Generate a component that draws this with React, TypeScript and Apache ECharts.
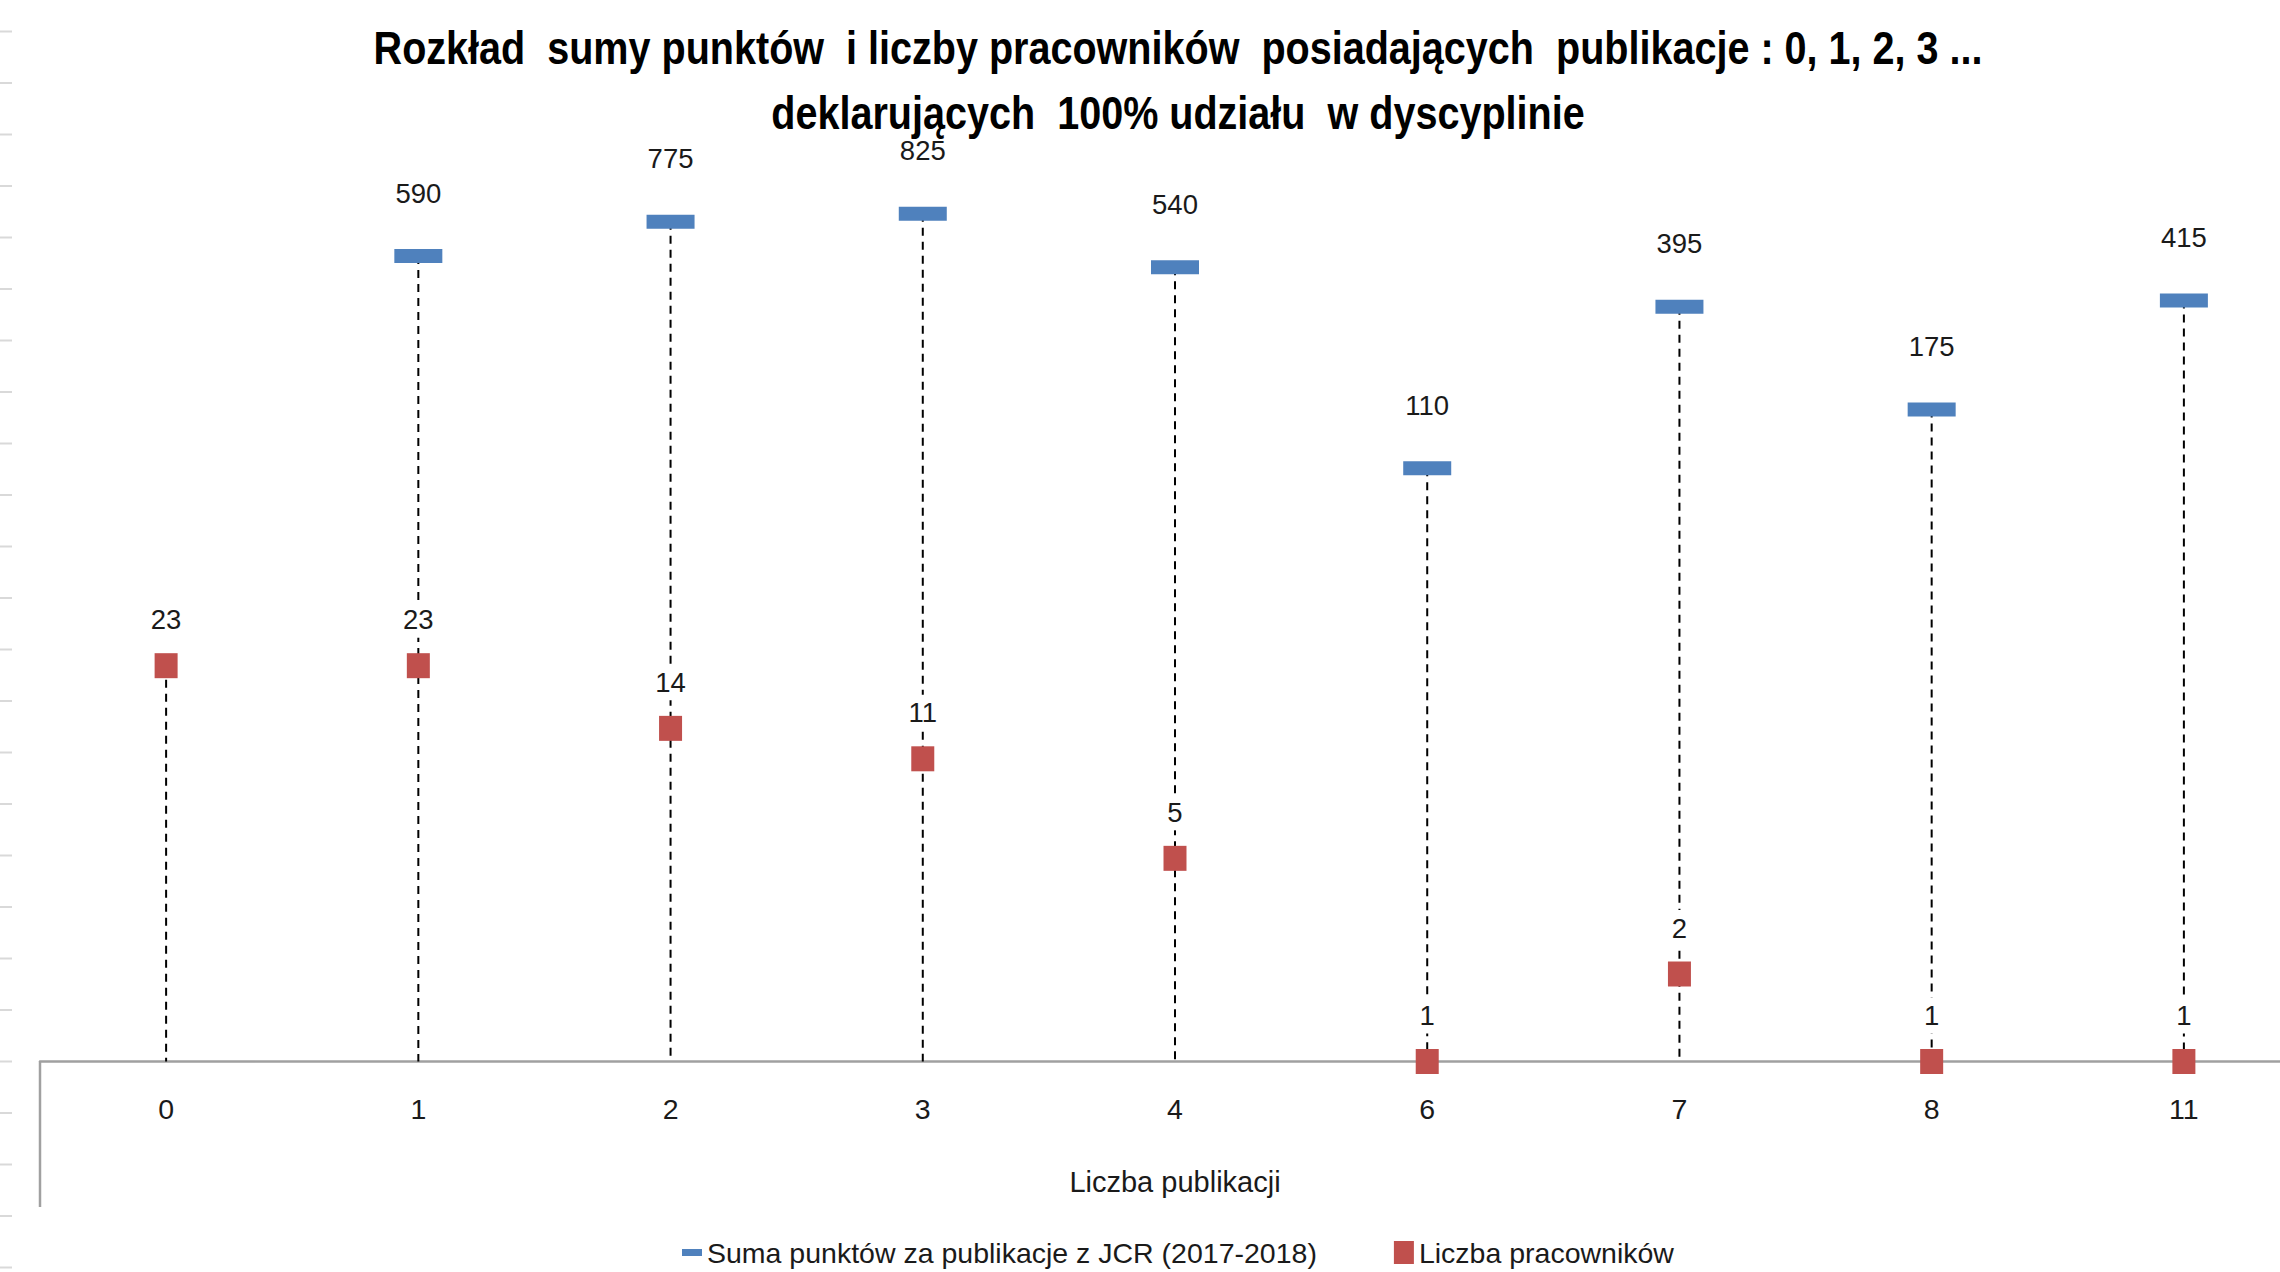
import React, { useEffect, useRef } from "react";
import * as echarts from "echarts";

const categories = ["0", "1", "2", "3", "4", "6", "7", "8", "11"];
const pointsSum: (number | null)[] = [null, 590, 775, 825, 540, 110, 395, 175, 415];
const employees: number[] = [23, 23, 14, 11, 5, 1, 2, 1, 1];
const titleLines = [
  "Rozkład  sumy punktów  i liczby pracowników  posiadających  publikacje : 0, 1, 2, 3 ...",
  "deklarujących  100% udziału  w dyscyplinie",
];
const seriesNames = ["Suma punktów za publikacje z JCR (2017-2018)", "Liczba pracowników"];
const xAxisName = "Liczba publikacji";

const FONT = "'Liberation Sans', Arial, sans-serif";

export default function App() {
  const ref = useRef<HTMLDivElement>(null);
  useEffect(() => {
    if (!ref.current) return;
    const chart = echarts.init(ref.current, null, { renderer: "svg" });

    const dropData = categories.map((_, i) => [i, Math.max(pointsSum[i] ?? 0, employees[i])]);

    const sideTicks: any[] = [];
    for (let k = -20; k <= 4; k++) {
      const y = 1061.5 + 51.5 * k;
      sideTicks.push({
        type: "line",
        silent: true,
        shape: { x1: 0, y1: y, x2: 12, y2: y },
        style: { stroke: "#d9d9d9", lineWidth: 2 },
      });
    }

    const labelBase = {
      show: true,
      position: "inside",
      fontFamily: FONT,
      fontSize: 27.5,
      color: "#1a1a1a",
      backgroundColor: "#ffffff",
      padding: [4, 4],
      formatter: "{c}",
    };

    chart.setOption({
      animation: false,
      backgroundColor: "#ffffff",
      textStyle: { fontFamily: FONT },
      grid: { left: 40, top: 189.5, width: 2270, height: 872, outerBoundsMode: "none", containLabel: false },
      xAxis: {
        type: "category",
        data: categories,
        boundaryGap: true,
        axisLine: { show: true, lineStyle: { color: "#a0a0a0", width: 2.5 } },
        axisTick: { show: false },
        axisLabel: { fontFamily: FONT, fontSize: 28.5, lineHeight: 28, color: "#1a1a1a", margin: 33 },
        name: xAxisName,
        nameLocation: "middle",
        nameGap: 106,
        nameTextStyle: { fontFamily: FONT, fontSize: 29, lineHeight: 29, color: "#1a1a1a" },
        splitLine: { show: false },
      },
      yAxis: {
        type: "log",
        logBase: 10,
        min: 1,
        max: 1000,
        show: true,
        axisLine: { show: false },
        axisTick: { show: false },
        axisLabel: { show: false },
        splitLine: { show: false },
      },
      legend: {
        left: 680,
        top: 1236,
        padding: 2,
        itemWidth: 20,
        itemHeight: 23,
        itemGap: 77,
        textStyle: { fontFamily: FONT, fontSize: 28.5, lineHeight: 28, color: "#1a1a1a" },
        data: [
          { name: seriesNames[0], icon: "path://M0,0 M0,23 M0,8 L20,8 L20,15 L0,15 Z" },
          { name: seriesNames[1], icon: "rect" },
        ],
      },
      graphic: [
        ...sideTicks,
        {
          type: "line",
          silent: true,
          shape: { x1: 40, y1: 1061.5, x2: 40, y2: 1207 },
          style: { stroke: "#a0a0a0", lineWidth: 2.5 },
        },
        ...titleLines.map((t, i) => ({
          type: "text",
          silent: true,
          z: 100,
          x: 1178,
          y: 48 + i * 65,
          scaleX: 0.86,
          style: {
            text: t,
            font: `bold 46px ${FONT}`,
            fill: "#000000",
            textAlign: "center",
            textVerticalAlign: "middle",
          },
        })),
      ],
      series: [
        {
          type: "custom",
          name: "drop",
          silent: true,
          data: dropData,
          encode: { x: 0, y: 1 },
          renderItem: (params: any, api: any) => {
            const idx = api.value(0);
            const top = api.coord([idx, api.value(1)]);
            const bottom = api.coord([idx, 1]);
            return {
              type: "line",
              shape: { x1: top[0], y1: top[1], x2: bottom[0], y2: bottom[1] },
              style: { stroke: "#000000", lineWidth: 2, lineDash: [8, 6] },
            };
          },
          z: 1,
        },
        {
          type: "scatter",
          name: seriesNames[0],
          data: pointsSum.map((v) => (v == null ? "-" : v)),
          symbol: "rect",
          symbolSize: [48, 14],
          itemStyle: { color: "#4f81bd", opacity: 1 },
          label: { ...labelBase, offset: [0, -63] },
          z: 3,
        },
        {
          type: "scatter",
          name: seriesNames[1],
          data: employees,
          symbol: "rect",
          symbolSize: [23, 25],
          itemStyle: { color: "#c0504d", opacity: 1 },
          label: { ...labelBase, offset: [0, -46] },
          z: 3,
        },
      ],
    });
    return () => chart.dispose();
  }, []);

  return (
    <div
      ref={ref}
      style={{ position: "fixed", left: 0, top: 0, width: 2280, height: 1272, background: "#fff" }}
    />
  );
}
